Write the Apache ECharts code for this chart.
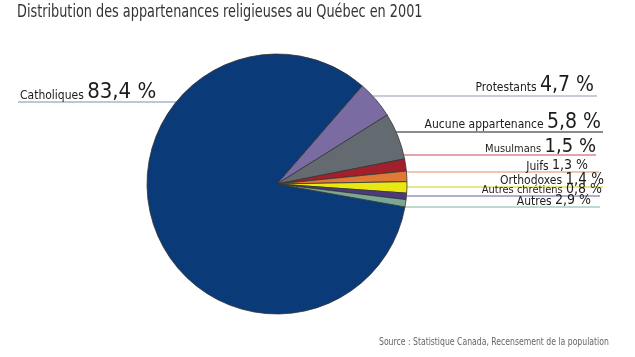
<!DOCTYPE html>
<html><head><meta charset="utf-8">
<script src="https://cdn.jsdelivr.net/npm/echarts@6/dist/echarts.min.js"></script>
<style>html,body{margin:0;padding:0;background:#fff}#c{width:635px;height:357px}</style>
</head><body><div id="c"></div>
<script>
// ---- data ----
const titleText = 'Distribution des appartenances religieuses au Québec en 2001';
const sourceText = 'Source : Statistique Canada, Recensement de la population';
const categories = ['Catholiques', 'Protestants', 'Aucune appartenance', 'Musulmans', 'Juifs', 'Orthodoxes', 'Autres chrétiens', 'Autres'];
// slice sizes as drawn in the picture (%)
const sliceShares = [83.4, 4.7, 5.8, 1.5, 1.3, 1.4, 0.8, 0.9];
// percentages as printed on the labels
const printedPercent = ['83,4 %', '4,7 %', '5,8 %', '1,5 %', '1,3 %', '1,4 %', '0,8 %', '2,9 %'];

// ---- styles / layout ----
const FONT = '"Liberation Sans Narrow","DejaVu Sans Condensed","Roboto Condensed","Liberation Sans",sans-serif';
const sliceColors = ['#0b3a79', '#7b6ba3', '#636a70', '#a2202b', '#df7a36', '#e9e812', '#4b3b7c', '#79a996'];
const lineColors = ['#a9b5cc', '#bbb7cf', '#5e666d', '#d58a92', '#ebb590', '#e2e25a', '#9a92bb', '#a9cdc0'];
const lineY = [102, 96, 132, 155, 172, 187, 196, 207];
const lineEndX = [18, 597, 603, 596, 599, 603, 600, 600];
const textEdgeX = [20, 594, 601, 596, 588, 604, 602, 591];
const baselineY = [99, 92, 129, 153, 170, 185, 194, 205];
const nameSize = [12, 12, 12, 11, 12, 12, 11, 12];
const valueSize = [22, 21, 21, 20, 14, 15, 14, 14];
const CX = 277, CY = 184, R = 130;
const endAngle = 49;

const total = sliceShares.reduce((a, b) => a + b, 0);
const startAngle = endAngle + 360 * sliceShares[0] / total;

const chart = echarts.init(document.getElementById('c'), null, {renderer: 'canvas'});

const data = categories.map((name, i) => ({
  name: name,
  value: sliceShares[i],
  itemStyle: {color: sliceColors[i]},
  labelLine: {lineStyle: {color: lineColors[i], width: 1.5}},
  label: {
    formatter: '{n' + i + '|' + name + '} {v' + i + '|' + printedPercent[i] + '}'
  }
}));

const rich = {};
categories.forEach((c, i) => {
  const pad = Math.round((valueSize[i] - nameSize[i]) * 0.2);
  rich['n' + i] = {fontFamily: FONT, fontSize: nameSize[i], color: '#1c1c1c', lineHeight: nameSize[i], verticalAlign: 'bottom', padding: [0, 0, pad, 0]};
  rich['v' + i] = {fontFamily: FONT, fontSize: valueSize[i], color: '#1c1c1c', lineHeight: valueSize[i], verticalAlign: 'bottom'};
});

chart.setOption({
  animation: false,
  backgroundColor: '#fff',
  graphic: [{
    type: 'text', x: 17, y: 4, scaleX: 0.84,
    style: {text: titleText, fontFamily: FONT, fontSize: 17, fill: '#333'}
  }, {
    type: 'text', x: 379, y: 337, scaleX: 0.78,
    style: {text: sourceText, fontFamily: FONT, fontSize: 11, fill: '#666'}
  }],
  series: [{
    type: 'pie',
    center: [CX, CY],
    radius: R,
    startAngle: startAngle,
    clockwise: true,
    avoidLabelOverlap: false,
    itemStyle: {borderColor: '#333', borderWidth: 0.8},
    label: {show: true, position: 'outside', rich: rich, color: '#1c1c1c'},
    labelLine: {show: true, length: 10, length2: 10, smooth: false},
    emphasis: {disabled: true},
    data: data,
    labelLayout: function (p) {
      const i = p.dataIndex;
      const y = lineY[i];
      const dx = Math.sqrt(Math.max(0, R * R - (y - CY) * (y - CY)));
      const left = i === 0;
      const edgeX = left ? CX - dx : CX + dx;
      const bottom = baselineY[i] + valueSize[i] * 0.2;
      return {
        x: textEdgeX[i],
        y: bottom,
        align: left ? 'left' : 'right',
        verticalAlign: 'bottom',
        hideOverlap: false,
        moveOverlap: null,
        labelLinePoints: [[edgeX, y], [edgeX, y], [lineEndX[i], y]]
      };
    }
  }]
});
</script>
</body></html>
